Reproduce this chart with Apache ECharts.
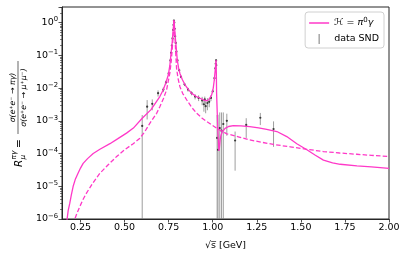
<!DOCTYPE html>
<html><head><meta charset="utf-8">
<script src="https://cdn.jsdelivr.net/npm/echarts@6/dist/echarts.min.js"></script>
<style>html,body{margin:0;padding:0;background:#fff;}#c{width:407px;height:257px;}</style>
</head><body><div id="c"></div>
<script>
// ---- data ----
const xTicks = [0.25, 0.50, 0.75, 1.00, 1.25, 1.50, 1.75, 2.00];
const yDecades = [1e-6, 1e-5, 1e-4, 1e-3, 1e-2, 1e-1, 1];

const solidX = [0.165, 0.174, 0.180, 0.189, 0.198, 0.208, 0.220, 0.236, 0.250, 0.265, 0.290, 0.322, 0.360, 0.417, 0.460, 0.511, 0.550, 0.600, 0.650, 0.700, 0.719, 0.735, 0.748, 0.757, 0.763, 0.770, 0.776, 0.780, 0.783, 0.786, 0.791, 0.799, 0.806, 0.814, 0.828, 0.843, 0.860, 0.881, 0.905, 0.928, 0.950, 0.966, 0.978, 0.985, 0.994, 1.003, 1.009, 1.015, 1.019, 1.0205, 1.022, 1.026, 1.029, 1.032, 1.035, 1.038, 1.042, 1.047, 1.055, 1.070, 1.090, 1.117, 1.160, 1.210, 1.260, 1.306, 1.364, 1.420, 1.477, 1.534, 1.580, 1.628, 1.680, 1.723, 1.818, 1.900, 2.000];
const solidY = [1e-7, 1.0e-6, 1.8e-6, 3.0e-6, 5.5e-6, 9.8e-6, 1.6e-5, 2.5e-5, 3.6e-5, 5.0e-5, 7.0e-5, 1.0e-4, 1.35e-4, 2.0e-4, 2.8e-4, 4.2e-4, 6.0e-4, 1.2e-3, 2.2e-3, 5.5e-3, 8.7e-3, 1.5e-2, 2.5e-2, 5.0e-2, 0.11, 0.25, 0.6, 1.2, 0.8, 0.45, 0.23, 0.072, 0.042, 0.028, 0.018, 0.0126, 9.3e-3, 6.9e-3, 5.6e-3, 4.9e-3, 4.3e-3, 4.1e-3, 4.4e-3, 4.9e-3, 6.2e-3, 1.0e-2, 1.8e-2, 4.0e-2, 7.2e-2, 3.0e-2, 7e-3, 1.5e-3, 5e-4, 2.5e-4, 1.2e-4, 1.5e-4, 2.6e-4, 3.6e-4, 4.6e-4, 5.9e-4, 6.7e-4, 7.1e-4, 7.0e-4, 6.6e-4, 6.1e-4, 5.5e-4, 4.7e-4, 3.3e-4, 2.0e-4, 1.3e-4, 9.0e-5, 6.3e-5, 5.2e-5, 4.7e-5, 4.2e-5, 3.9e-5, 3.5e-5];

const dashX = [0.212, 0.218, 0.230, 0.246, 0.265, 0.284, 0.320, 0.360, 0.410, 0.455, 0.500, 0.549, 0.587, 0.615, 0.644, 0.682, 0.700, 0.720, 0.738, 0.757, 0.765, 0.772, 0.777, 0.780, 0.783, 0.786, 0.790, 0.795, 0.803, 0.814, 0.830, 0.852, 0.880, 0.909, 0.940, 0.966, 1.023, 1.080, 1.150, 1.210, 1.280, 1.344, 1.440, 1.534, 1.628, 1.720, 1.818, 1.900, 2.000];
const dashY = [1e-7, 1.0e-6, 1.5e-6, 2.4e-6, 4.0e-6, 6.2e-6, 1.26e-5, 2.5e-5, 4.7e-5, 8.1e-5, 1.3e-4, 2.0e-4, 2.95e-4, 4.7e-4, 8.5e-4, 1.7e-3, 2.7e-3, 4.7e-3, 8.7e-3, 2.9e-2, 7e-2, 0.2, 0.55, 1.15, 0.6, 0.35, 0.12, 0.04, 0.02, 0.011, 6.8e-3, 4.4e-3, 2.6e-3, 1.7e-3, 1.2e-3, 9.5e-4, 5.9e-4, 4.0e-4, 3.2e-4, 2.6e-4, 2.2e-4, 1.9e-4, 1.6e-4, 1.35e-4, 1.15e-4, 1.04e-4, 9.5e-5, 8.8e-5, 8.1e-5];

const sndX   = [0.60, 0.628, 0.657, 0.69, 0.72, 0.735, 0.75, 0.76, 0.764, 0.768, 0.772, 0.776, 0.778, 0.780, 0.782, 0.784, 0.787, 0.790, 0.794, 0.80, 0.81, 0.82, 0.84, 0.86, 0.88, 0.90, 0.92, 0.94, 0.95, 0.955, 0.96, 0.97, 0.98, 0.99, 1.00, 1.01, 1.015, 1.017, 1.019, 1.02, 1.025, 1.03, 1.04, 1.05, 1.06, 1.08, 1.127, 1.19, 1.27, 1.345];
const sndY   = [7e-4, 2.7e-3, 3.3e-3, 7e-3, 9e-3, 1.5e-2, 2.8e-2, 7e-2, 0.12, 0.2, 0.33, 0.6, 0.85, 1.15, 1.0, 0.65, 0.38, 0.24, 0.13, 0.07, 0.035, 0.022, 0.013, 9e-3, 7e-3, 5.5e-3, 5e-3, 4.2e-3, 3.2e-3, 4.5e-3, 2.8e-3, 3.5e-3, 3.8e-3, 5e-3, 8e-3, 0.02, 0.04, 0.055, 0.07, 0.05, 3e-4, 1.3e-4, 6e-4, 5e-4, 8e-4, 1.0e-3, 2.5e-4, 7.5e-4, 1.24e-3, 5.6e-4];
const sndErr = [8e-4, 1.6e-3, 1.2e-3, 1.5e-3, 1.5e-3, 2e-3, 3e-3, 6e-3, 0.01, 0.015, 0.02, 0.04, 0.05, 0.07, 0.06, 0.04, 0.03, 0.02, 0.01, 6e-3, 3e-3, 2e-3, 1.5e-3, 1.2e-3, 1e-3, 1e-3, 1e-3, 1.2e-3, 1.3e-3, 1e-3, 1.1e-3, 1.4e-3, 1.2e-3, 1e-3, 1e-3, 3e-3, 4e-3, 6e-3, 7e-3, 5e-3, 1.2e-3, 1.4e-3, 1.2e-3, 1.3e-3, 1.0e-3, 6.5e-4, 2.2e-4, 4.5e-4, 5e-4, 4e-4];

const lineName = 'ℋ = π⁰γ';
const dataName = 'data SND';
const dashName = 'dashed';

// ---- styling ----
const PINK = '#ff38c8';
const FONT = 'DejaVu Sans';
const minorVals = [];
for (let k = -6; k <= 0; k++) for (let m = 2; m <= 9; m++) minorVals.push(m * Math.pow(10, k));

const chart = echarts.init(document.getElementById('c'), null, {renderer: 'canvas'});

function supLabel(v) {
  const e = Math.round(Math.log10(v));
  if (Math.abs(v - Math.pow(10, e)) / Math.pow(10, e) > 0.01) return '';
  return '{b|10}{s|' + (e < 0 ? '\u2212' + (-e) : e) + '}';
}

const option = {
  animation: false,
  backgroundColor: '#fff',
  textStyle: {fontFamily: FONT},
  grid: {left: 62, right: 18, top: 7, bottom: 38, show: true, borderColor: '#262626', borderWidth: 1, backgroundColor: 'transparent', containLabel: false, outerBoundsMode: 'none'},
  legend: {
    data: [
      {name: lineName, icon: 'path://M0,0L20,0L20,1.5L0,1.5Z', symbolKeepAspect: true, itemStyle: {color: PINK}},
      {name: dataName, icon: 'path://M0,0L1,0L1,10L0,10Z', symbolKeepAspect: true, itemStyle: {color: '#7a7a7a'}}
    ],
    orient: 'vertical', right: 23, top: 12,
    padding: [5, 5, 4, 4], itemGap: 6, itemWidth: 20, itemHeight: 10,
    backgroundColor: 'rgba(255,255,255,0.8)', borderColor: '#d0d0d0', borderWidth: 1, borderRadius: 3,
    textStyle: {fontFamily: FONT, fontSize: 9.5, color: '#000',
      rich: {n: {fontFamily: FONT, fontSize: 9.5, color: '#000'}, i: {fontFamily: FONT, fontSize: 9.5, fontStyle: 'italic', color: '#000'}, u: {fontFamily: FONT, fontSize: 7, color: '#000', padding: [0, 0, 5, 0]}}},
    formatter: name => name === lineName ? '{n|ℋ = }{i|π}{u|0}{i|γ}' : name,
    selectedMode: false
  },
  xAxis: {
    type: 'value', min: 0.145, max: 2.0,
    name: '\u221As\u0305 [GeV]', nameLocation: 'middle', nameGap: 22,
    nameTextStyle: {fontFamily: FONT, fontSize: 9.5, color: '#000'},
    axisLine: {show: true, onZero: false, lineStyle: {color: '#262626', width: 1}},
    axisTick: {show: true, inside: false, length: 3.5, customValues: xTicks, lineStyle: {color: '#262626', width: 0.8}},
    axisLabel: {customValues: xTicks, formatter: v => v.toFixed(2), margin: 4, fontFamily: FONT, fontSize: 9.5, color: '#000'},
    splitLine: {show: false}
  },
  yAxis: [{
    type: 'log', logBase: 10, min: 1e-6, max: 3,
    axisLine: {show: true, lineStyle: {color: '#262626', width: 1}},
    axisTick: {show: true, inside: false, length: 3.5, lineStyle: {color: '#262626', width: 0.8}},
    minorTick: {show: false},
    splitLine: {show: false},
    axisLabel: {margin: 4, formatter: supLabel, color: '#000',
      rich: {b: {fontFamily: FONT, fontSize: 9.5, color: '#000'}, s: {fontFamily: FONT, fontSize: 6.8, color: '#000', padding: [0, 0, 6, 0]}}}
  }, {
    type: 'log', logBase: 10, min: 1e-6, max: 3, position: 'left',
    axisLine: {show: false}, axisLabel: {show: false}, splitLine: {show: false},
    axisTick: {show: true, inside: false, length: 2, customValues: minorVals, lineStyle: {color: '#262626', width: 0.6}}
  }],
  series: [
    {
      name: lineName, type: 'line', symbol: 'none', showSymbol: false, smooth: false,
      data: solidX.map((x, i) => [x, solidY[i]]),
      lineStyle: {color: PINK, width: 1.3}, itemStyle: {color: PINK}, clip: true, z: 3
    },
    {
      name: dashName, type: 'line', symbol: 'none', showSymbol: false, smooth: false,
      data: dashX.map((x, i) => [x, dashY[i]]),
      lineStyle: {color: PINK, width: 1.3, type: [4.5, 2.2]}, itemStyle: {color: PINK}, clip: true, z: 3
    },
    {
      name: dataName, type: 'custom', z: 2, symbolKeepAspect: true,
      itemStyle: {color: '#7a7a7a'},
      data: sndX.map((x, i) => [x, sndY[i], sndErr[i]]),
      encode: {x: 0, y: 1},
      renderItem: (params, api) => {
        const x = api.value(0), y = api.value(1), e = api.value(2);
        const cs = params.coordSys;
        const bottom = cs.y + cs.height;
        const pc = api.coord([x, y]);
        const ph = api.coord([x, y + e]);
        const lo = y - e;
        let yl = lo > 0 ? api.coord([x, lo])[1] : bottom;
        yl = Math.min(yl, bottom);
        const yh = Math.max(ph[1], cs.y);
        return {type: 'group', children: [
          {type: 'line', shape: {x1: pc[0], y1: yh, x2: pc[0], y2: yl}, style: {stroke: 'rgba(125,125,125,0.75)', lineWidth: 1}},
          {type: 'circle', shape: {cx: pc[0], cy: pc[1], r: 1.1}, style: {fill: '#3a3a3a'}}
        ]};
      }
    }
  ],
  graphic: [{
    type: 'group', x: 20, y: 113, rotation: Math.PI / 2,
    children: [
      {type: 'text', x: -54, y: -1, style: {text: 'R', fontFamily: FONT, fontSize: 10.5, fontStyle: 'italic', fill: '#000', align: 'left', verticalAlign: 'middle', textAlign: 'left', textVerticalAlign: 'middle'}},
      {type: 'text', x: -46.5, y: -5.5, style: {text: 'πγ', fontFamily: FONT, fontSize: 7.3, fontStyle: 'italic', fill: '#000', align: 'left', verticalAlign: 'middle', textAlign: 'left', textVerticalAlign: 'middle'}},
      {type: 'text', x: -46.5, y: 3.5, style: {text: 'μ', fontFamily: FONT, fontSize: 7.3, fontStyle: 'italic', fill: '#000', align: 'left', verticalAlign: 'middle', textAlign: 'left', textVerticalAlign: 'middle'}},
      {type: 'text', x: -35, y: -1, style: {text: '=', fontFamily: FONT, fontSize: 10.5, fill: '#000', align: 'left', verticalAlign: 'middle', textAlign: 'left', textVerticalAlign: 'middle'}},
      {type: 'line', shape: {x1: -21, y1: -2, x2: 52, y2: -2}, style: {stroke: '#000', lineWidth: 0.6}},
      {type: 'text', x: 15.5, y: -7, style: {text: 'σ(e⁺e⁻ → πγ)', fontFamily: FONT, fontSize: 7.8, fontStyle: 'italic', fill: '#000', align: 'center', verticalAlign: 'middle', textAlign: 'center', textVerticalAlign: 'middle'}},
      {type: 'text', x: 15.5, y: 3.5, style: {text: 'σ(e⁺e⁻ → μ⁺μ⁻)', fontFamily: FONT, fontSize: 7.8, fontStyle: 'italic', fill: '#000', align: 'center', verticalAlign: 'middle', textAlign: 'center', textVerticalAlign: 'middle'}}
    ]
  }]
};
chart.setOption(option);
</script>
</body></html>
